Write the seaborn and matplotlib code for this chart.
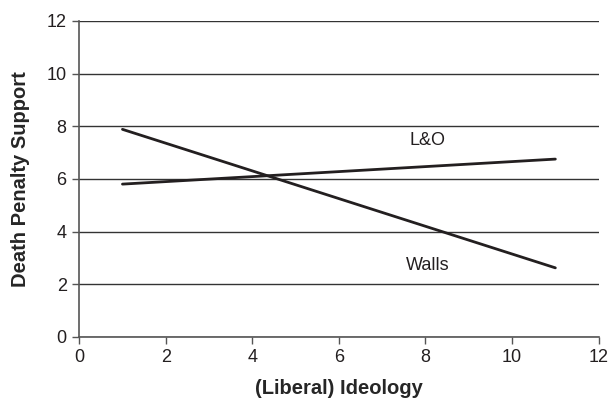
import matplotlib
matplotlib.use("Agg")
import matplotlib.pyplot as plt
import seaborn as sns
import pandas as pd

# data
ideology = [1, 11]
lo_support = [5.8, 6.75]
walls_support = [7.88, 2.62]
series_names = ["L&O", "Walls"]
label_pos = {"L&O": (8.05, 7.45), "Walls": (8.05, 2.7)}

df = pd.DataFrame({
    "ideology": ideology * 2,
    "support": lo_support + walls_support,
    "model": [series_names[0]] * 2 + [series_names[1]] * 2,
})

sns.set_style("white")
plt.rcParams["font.family"] = ["Liberation Sans", "DejaVu Sans"]

fig, ax = plt.subplots(figsize=(6.09, 4.01), dpi=100)
sns.lineplot(data=df, x="ideology", y="support", hue="model",
             palette=["#231f20", "#231f20"], linewidth=2, legend=False, ax=ax)

for name, (lx, ly) in label_pos.items():
    ax.text(lx, ly, name, ha="center", va="center", fontsize=13, color="#231f20")

ax.set_xlim(0, 12)
ax.set_ylim(0, 12)
ax.set_xticks(range(0, 13, 2))
ax.set_yticks(range(0, 13, 2))
ax.yaxis.grid(True, color="#333333", linewidth=1)
ax.xaxis.grid(False)
ax.set_axisbelow(True)

for s in ["top", "right"]:
    ax.spines[s].set_visible(False)
for s in ["left", "bottom"]:
    ax.spines[s].set_color("#555555")
    ax.spines[s].set_linewidth(1.2)

ax.tick_params(axis="both", direction="out", length=5, width=1, color="#555555",
               labelsize=13, labelcolor="#231f20", bottom=True, left=True, pad=4)

ax.set_xlabel("(Liberal) Ideology", fontsize=14.5, fontweight="bold", labelpad=9)
ax.set_ylabel("Death Penalty Support", fontsize=14.5, fontweight="bold", labelpad=12)

fig.subplots_adjust(left=0.13, right=0.983, top=0.948, bottom=0.16)
fig.savefig("out.png", dpi=100)
